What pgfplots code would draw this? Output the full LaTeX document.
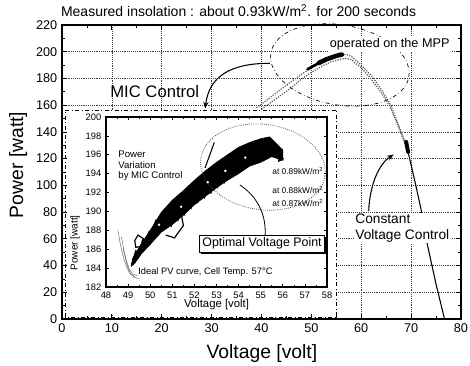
\documentclass[border=0pt]{standalone}
\usepackage{pgfplots}
\pgfplotsset{compat=1.18}
\usepackage{fontspec}
\setmainfont{Liberation Sans}
\usetikzlibrary{shadows,arrows.meta}
\begin{document}
\begin{tikzpicture}
\path[use as bounding box] (-46.5pt,-35.25pt) rectangle (306pt,239.25pt);
\begin{axis}[
  name=main,
  at={(0pt,0pt)}, anchor=south west,
  scale only axis, width=299.25pt, height=220.5pt,
  xmin=0, xmax=80, ymin=0, ymax=220,
  xtick={0,10,...,80}, ytick={0,20,...,220},
  minor x tick num=1, minor y tick num=1,
  grid=major,
  major grid style={densely dotted, black!75, line width=0.5pt},
  tick align=inside,
  major tick length=3.5pt, minor tick length=2pt,
  every tick/.style={black, line width=0.6pt},
  axis line style={line width=0.8pt},
  tick label style={font=\fontsize{9.5}{11}\selectfont},
  /pgf/number format/assume math mode=true,
  xlabel={Voltage [volt]}, ylabel={Power [watt]},
  label style={font=\fontsize{14.5}{16}\selectfont},
  xlabel style={at={(axis description cs:0.501,-0.116)}, anchor=center},
  ylabel style={at={(axis description cs:-0.110,0.524)}, anchor=center},
  clip=false,
]
% zoom window (white, dash-dot)
\fill[white] (axis cs:1.0,3.6) rectangle (axis cs:55.1,156.4);
\draw[dash dot, line width=0.6pt] (axis cs:0.6,1.5) rectangle (axis cs:55.1,156.4);
% ideal PV curves
\addplot[densely dotted, line width=0.9pt, black!65] coordinates {
(39,158) (42,166.5) (45,175) (48,183) (50,188) (52,192) (54,195.5) (56,197.8) (57,198) (58,196.5) (60,190) (62.3,181) (64,172) (65.7,161.6) (67,150) (68.1,139) (69.2,128)};
\addplot[densely dotted, line width=0.9pt, black!65] coordinates {
(40,157) (43,165) (46,173) (48,179.5) (50,184.5) (52,189) (54,192.5) (56,194.5) (57,195) (58,194) (60,188) (62,179.5) (64,169.5) (65.7,159.5) (67,148) (68.1,137.5) (69.2,128)};
\addplot[black, line width=0.8pt] coordinates {(69.2,128) (70.7,104) (72,82) (73.3,55) (75,26) (76.7,0)};
% operation on the MPP
\addplot[black, line width=2pt, line cap=round] coordinates {(49.2,186.8) (50.5,189.5) (52,192.5)};
\addplot[black, line width=3.4pt, line cap=round] coordinates {(51.5,191.6) (53,194.3) (54.5,196.3) (55.5,197.4) (56.1,197.9)};
% constant voltage operating point
\addplot[black, line width=3pt, line cap=round] coordinates {(69.0,132.5) (69.4,125)};
% ellipse
\coordinate (E) at (axis cs:55.7,190.1);
\draw[dash dot, line width=0.5pt, rotate around={-10:(E)}] (E) ellipse [x radius=52.5pt, y radius=30pt];
% arrows
\draw[-{Stealth[length=5pt,width=4pt]}, line width=0.8pt] (axis cs:41.7,191.3) .. controls (axis cs:34,191.5) and (axis cs:29.5,182) .. (axis cs:28.7,157.5);
\draw[-{Stealth[length=5pt,width=4pt]}, line width=0.8pt] (axis cs:61.5,81) .. controls (axis cs:61.7,100) and (axis cs:63.5,116) .. (axis cs:66.5,123);
% texts
\node[font=\fontsize{12.5}{14}\selectfont] at (axis cs:18.6,169.9) {MIC Control};
\node[font=\fontsize{10.3}{11.5}\selectfont, fill=white, align=left, anchor=north west, inner sep=1pt] at (axis cs:58.5,79.5) {Constant\\Voltage Control};
\node[font=\fontsize{9.5}{11}\selectfont, fill=white, inner sep=1pt] at (axis cs:65.7,205.3) {operated on the MPP};
\end{axis}
\node[font=\fontsize{10.5}{12}\selectfont] at (132.4pt,231pt) {Measured insolation : about 0.93kW/m\textsuperscript{2}. for 200 seconds};
% inset
\begin{axis}[
  at={(33pt,24pt)}, anchor=south west,
  scale only axis, width=165.75pt, height=127.5pt,
  xmin=48, xmax=58, ymin=182, ymax=200,
  xtick={48,49,...,58}, ytick={182,184,...,200},
  minor x tick num=1,
  tick align=inside, major tick length=2.5pt, minor tick length=1.5pt,
  every tick/.style={black, line width=0.5pt},
  axis line style={line width=0.8pt},
  tick label style={font=\fontsize{7}{8}\selectfont},
  /pgf/number format/assume math mode=true,
  xlabel={Voltage [volt]}, ylabel={Power [watt]},
  xlabel style={font=\fontsize{8.5}{10}\selectfont, at={(axis description cs:0.5,-0.106)}, anchor=center},
  ylabel style={font=\fontsize{7.5}{9}\selectfont, at={(axis description cs:-0.14,0.26)}, anchor=center},
  clip=false,
]
% ideal PV curves (low part)
\addplot[black!55, line width=0.4pt] coordinates {(48.54,188.0) (48.65,186.5) (48.8,185.0) (48.95,184.0) (49.1,183.4) (49.3,183.1)};
\addplot[black!55, line width=0.4pt] coordinates {(48.7,187.3) (48.8,186.0) (48.92,184.8) (49.05,183.9) (49.2,183.4) (49.4,183.2)};
\addplot[black!55, line width=0.4pt] coordinates {(48.77,186.1) (48.88,185.0) (49.0,184.0) (49.1,183.4) (49.3,183.0) (49.5,182.9)};
% MIC control trajectory: dense band
\addplot[black, fill=black, line width=0.4pt] coordinates {
(49.2,185.0) (49.6,186.6) (50.0,188.0) (50.5,189.9) (51.0,191.2) (51.5,192.2) (52.0,193.3) (52.5,194.3) (53.0,195.2) (53.5,196.0)
(54.0,196.8) (54.5,197.3) (55.0,197.7) (55.4,197.9) (55.7,197.2) (56.0,196.5)
(56.0,195.4) (55.5,195.8) (55.0,195.2) (54.5,194.8) (54.0,194.0) (53.5,193.3) (53.0,192.5) (52.5,191.6) (52.0,190.7) (51.5,189.6)
(51.0,188.6) (50.5,187.8) (50.0,186.5) (49.6,185.5) (49.3,184.5) (49.15,184.2) (49.2,185.0)};
\addplot[black, line width=0.8pt, line join=round] coordinates {
(49.15,184.3) (49.35,185.9) (49.45,185.0) (49.65,187.0) (49.7,185.8) (49.95,187.9) (50.0,186.6) (50.25,189.1) (50.3,187.4) (50.55,189.7)
(50.6,188.0) (50.85,190.4) (50.95,188.4) (51.15,191.1) (51.25,189.0) (51.45,191.8) (51.55,189.6) (51.75,192.4) (51.85,190.3) (52.05,193.1)
(52.15,190.9) (52.35,193.8) (52.45,191.4) (52.65,194.3) (52.75,191.9) (52.95,194.9) (53.05,192.5) (53.25,195.4) (53.35,193.0) (53.55,195.8)
(53.65,193.6) (53.85,196.3) (53.95,194.0) (54.15,196.8) (54.25,194.5) (54.45,197.2) (54.55,195.0) (54.75,197.5) (54.85,195.4) (55.05,197.7)
(55.15,196.0) (55.35,197.8) (55.4,196.4) (55.6,197.2) (55.7,196.0) (55.95,196.6) (55.8,195.3) (56.05,195.6)};
\addplot[only marks, mark=*, white, mark size=0.7pt] coordinates {(51.4,190.5) (52.6,193.1) (53.4,194.3) (54.3,195.7) (50.4,188.6)};
\addplot[black, line width=0.9pt] coordinates {(49.3,186.9) (49.45,187.5) (49.7,187.1) (49.6,186.3) (49.35,186.2) (49.3,186.9)};
\addplot[black, line width=0.9pt] coordinates {(50.6,189.5) (51.4,189.8) (51.5,188.5) (51.1,187.2) (50.7,187.5)};
% dotted ellipse
\coordinate (F) at (axis cs:55.1,194.7);
\draw[densely dotted, black!70, line width=0.6pt, rotate around={-8:(F)}] (F) ellipse [x radius=47pt, y radius=32pt];
% lines
\draw[line width=0.8pt] (axis cs:52.9,197.3) -- (axis cs:52.48,194.6);
\draw[line width=0.6pt] (axis cs:54.06,192.8) .. controls (axis cs:54.9,191.5) and (axis cs:55.25,189.5) .. (axis cs:55.2,187.5);
% texts
\node[font=\fontsize{7.2}{7.8}\selectfont, align=left, anchor=north west, inner sep=0pt] at (axis cs:48.55,196.4) {Power\\Variation\\by MIC Control};
\node[font=\fontsize{6.3}{7}\selectfont, anchor=east, inner sep=0pt] at (axis cs:57.85,194.3) {at 0.89kW/m\textsuperscript{2}};
\node[font=\fontsize{6.3}{7}\selectfont, anchor=east, inner sep=0pt] at (axis cs:57.85,192.3) {at 0.88kW/m\textsuperscript{2}};
\node[font=\fontsize{6.3}{7}\selectfont, anchor=east, inner sep=0pt] at (axis cs:57.85,190.9) {at 0.87kW/m\textsuperscript{2}};
\node[draw, fill=white, line width=0.6pt, font=\fontsize{9.3}{11}\selectfont, inner sep=2pt,
  drop shadow={shadow xshift=1.2pt, shadow yshift=-1.2pt, fill=black, opacity=1}] at (axis cs:55.06,186.6) {Optimal Voltage Point};
\node[anchor=west, font=\fontsize{7}{8}\selectfont, inner sep=0pt] at (axis cs:49.45,183.6) {Ideal PV curve, Cell Temp. 57°C};
\end{axis}
\end{tikzpicture}
\end{document}
